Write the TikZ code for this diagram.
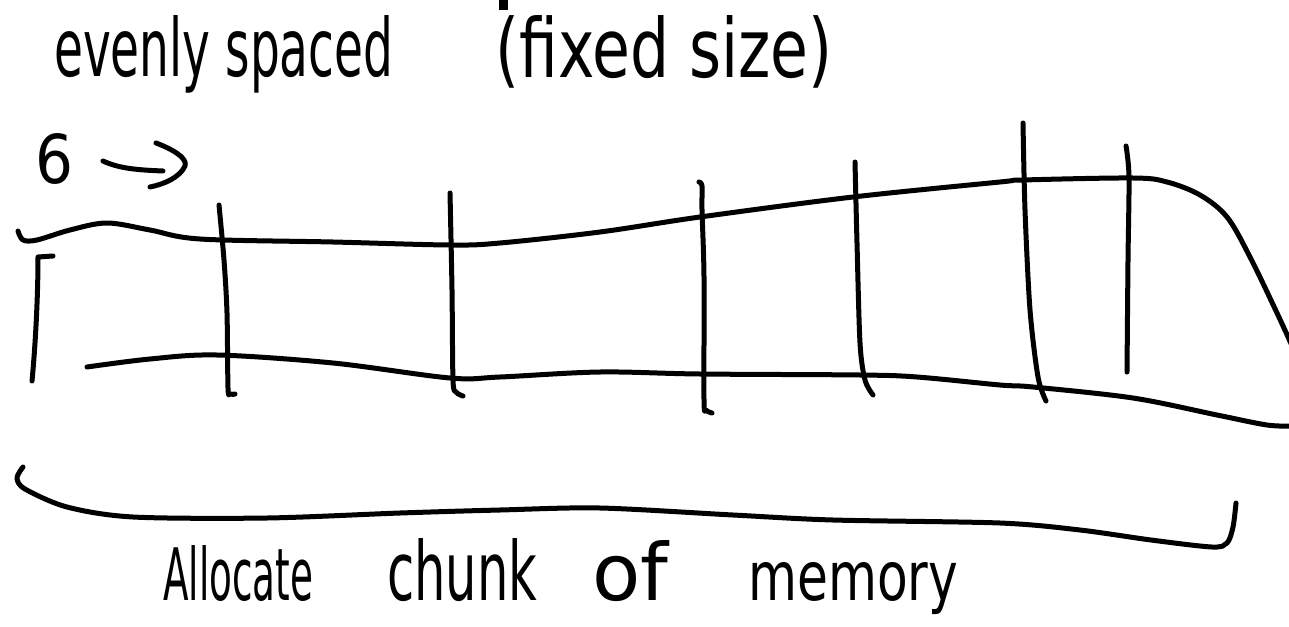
\documentclass[tikz,border=0pt]{standalone}
\usepackage{fontspec}
\setmainfont{DejaVu Sans}
\usepackage{graphicx}
\begin{document}
\begin{tikzpicture}[x=1pt,y=-1pt,
  ink/.style={line width=5pt, line cap=round, line join=round},
  hand/.style={inner sep=0pt, anchor=base west}]
\useasboundingbox (0,0) rectangle (1289,626);
\fill[white] (0,0) rectangle (1289,626);

% cut-off mark at the top edge
\fill (499,0) rectangle (508,10);

% heading
\node[hand] (head) at (54,77) {\resizebox{339pt}{61pt}{evenly spaced}\hspace{102pt}\resizebox{337pt}{62pt}{(fixed size)}};

% "6 ->"
\node[hand] (six) at (35,183) {\resizebox{38pt}{50pt}{6}};
\coordinate (as) at (103,161);
\coordinate (ae) at (163,171);
\draw[ink] (as) .. controls (120,169) and (140,170) .. (ae);
\draw[ink] (156,143) .. controls (172,149) and (188,158) .. (185,166) .. controls (180,177) and (165,184) .. (150,187);

% top edge of the memory strip
\draw[ink] plot[smooth, tension=0.55] coordinates {(18,231) (23,240) (37,240) (70,230) (107,223) (150,230) (200,239) (333,242) (450,245) (500,243) (600,232) (700,217) (853,197) (1000,182) (1023,180) (1133,178) (1167,182) (1200,195) (1227,217) (1250,257) (1277,313) (1293,348)};
% bottom edge
\draw[ink] plot[smooth, tension=0.55] coordinates {(87,367) (150,359) (217,355) (333,363) (450,378) (500,377) (600,372) (700,374) (860,375) (917,377) (1000,385) (1033,387) (1133,398) (1217,415) (1267,425) (1293,426)};

% left bracket
\draw[ink] (53,256) -- (38,257) .. controls (38,300) and (35,350) .. (32,381);

% dividers
\draw[ink] plot[smooth, tension=0.5] coordinates {(219,205) (224,260) (227,313) (228,388) (230,394) (235,394)};
\draw[ink] plot[smooth, tension=0.5] coordinates {(450,193) (452,290) (453,380) (456,392) (463,396)};
\draw[ink] plot[smooth, tension=0.5] coordinates {(699,182) (702,186) (702,210) (704,277) (704,400) (706,410) (712,413)};
\draw[ink] plot[smooth, tension=0.5] coordinates {(855,162) (857,243) (860,343) (865,380) (873,395)};
\draw[ink] plot[smooth, tension=0.5] coordinates {(1023,123) (1025,210) (1030,310) (1038,377) (1046,401)};
\draw[ink] plot[smooth, tension=0.5] coordinates {(1126,146) (1129,177) (1128,260) (1127,372)};

% brace under the strip
\draw[ink] plot[smooth, tension=0.5] coordinates {(23,467) (17,478) (25,489) (67,507) (133,517) (267,518) (400,513) (500,510) (600,508) (733,515) (833,520) (1000,523) (1080,530) (1151,540) (1212,547) (1227,543) (1233,527) (1236,503)};

% caption
\node[hand] (cap) at (163,600) {\resizebox{150pt}{55pt}{Allocate}\hspace{74pt}\resizebox{150pt}{62pt}{chunk}\hspace{55pt}\resizebox{76pt}{60pt}{of}\hspace{80pt}\resizebox{210pt}{38pt}{memory}};
\end{tikzpicture}
\end{document}
